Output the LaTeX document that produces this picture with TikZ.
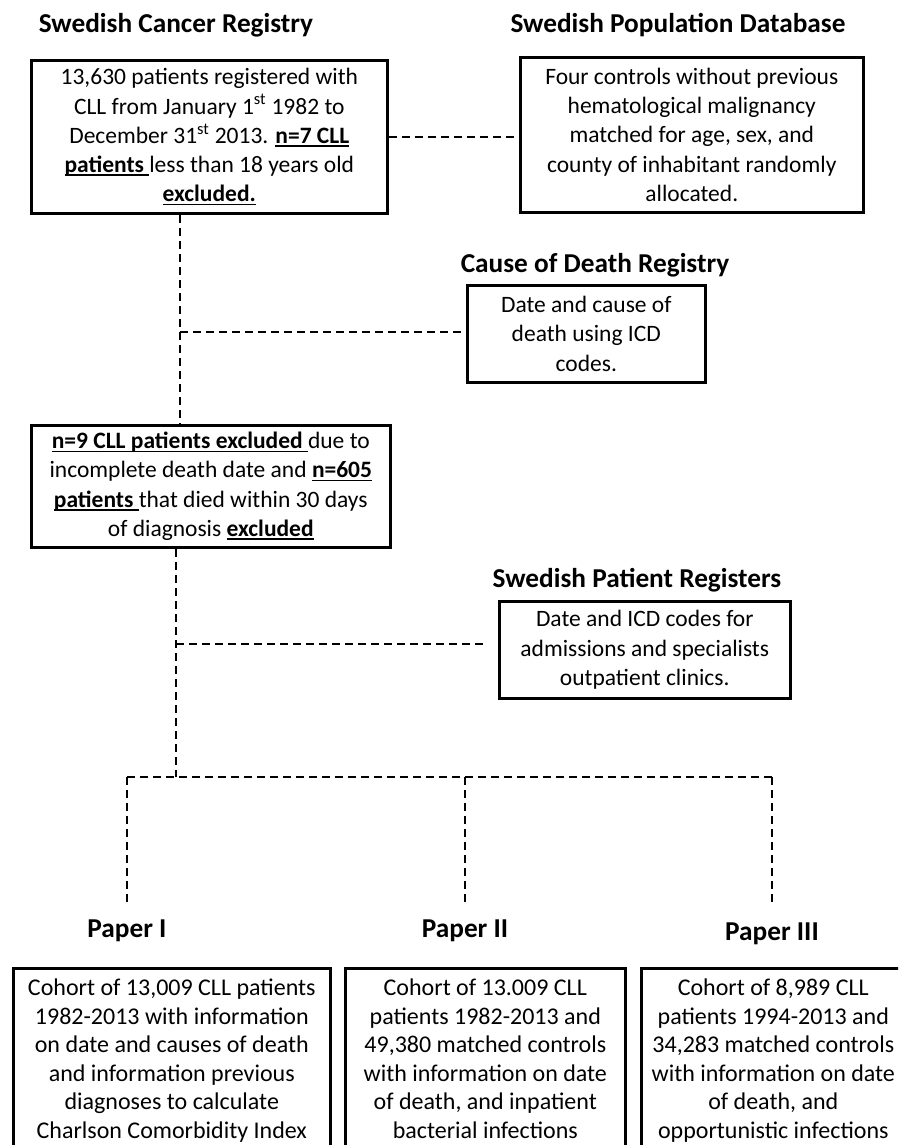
\documentclass[tikz,border=0pt]{standalone}
\usepackage{fontspec}
\setmainfont{Carlito}
\newcommand{\ulbox}[1]{\leavevmode\setbox0\hbox{#1}\rlap{\rule[-3.5pt]{\wd0}{1.6pt}}\box0}
\begin{document}
\begin{tikzpicture}[x=1pt,y=-1pt,
  box/.style={draw, line width=3.4pt, align=center, inner sep=0pt,
    font=\fontsize{23.5}{29.2}\selectfont, anchor=north west},
  cbox/.style={draw, line width=3.4pt, align=center, inner xsep=0pt, inner ysep=11pt,
    text depth=30pt, font=\fontsize{24}{28.5}\selectfont, anchor=north west},
  ttl/.style={font=\fontsize{27.3}{31}\selectfont\bfseries, inner sep=0pt, anchor=base},
  conn/.style={line width=1.7pt, dash pattern=on 8pt off 5pt}]
\useasboundingbox (0,0) rectangle (898,1145);
\clip (0,0) rectangle (898,1145);
% titles
\node[ttl] (t1) at (176,33) {Swedish Cancer Registry};
\node[ttl] (t2) at (678,33) {Swedish Population Database};
\node[ttl] (t3) at (595,272) {Cause of Death Registry};
\node[ttl] (t4) at (637,587) {Swedish Patient Registers};
\node[ttl] (p1) at (127,937) {Paper I};
\node[ttl] (p2) at (465,937) {Paper II};
\node[ttl] (p3) at (772,940) {Paper III};
% boxes
\node[box, minimum width=356, minimum height=153] (b1) at (29.6,58.6)
  {13,630 patients registered with\\
   CLL from January 1\textsuperscript{st} 1982 to\\
   December 31\textsuperscript{st} 2013. \ulbox{\textbf{n=7 CLL}}\\
   \ulbox{\textbf{patients}\ }less than 18 years old\\
   \ulbox{\textbf{excluded.}}};
\node[box, minimum width=343, minimum height=155] (b2) at (518.6,55.6)
  {Four controls without previous\\
   hematological malignancy\\
   matched for age, sex, and\\
   county of inhabitant randomly\\
   allocated.};
\node[box, minimum width=238, minimum height=97] (cod) at (465.6,283.6)
  {Date and cause of\\ death using ICD\\ codes.};
\node[box, minimum width=359, minimum height=122] (b3) at (29.6,423.6)
  {\ulbox{\textbf{n=9 CLL patients excluded}\ }due to\\
   incomplete death date and \ulbox{\textbf{n=605}}\\
   \ulbox{\textbf{patients}\ }that died within 30 days\\
   of diagnosis \ulbox{\textbf{excluded}}};
\node[box, minimum width=291, minimum height=97] (pr) at (497.6,599.6)
  {Date and ICD codes for\\ admissions and specialists\\ outpatient clinics.};
\node[cbox, minimum width=317] (c1) at (11.6,966.6)
  {Cohort of 13,009 CLL patients\\
   1982-2013 with information\\
   on date and causes of death\\
   and information previous\\
   diagnoses to calculate\\
   Charlson Comorbidity Index};
\node[cbox, minimum width=280] (c2) at (343.6,966.6)
  {Cohort of 13.009 CLL\\
   patients 1982-2013 and\\
   49,380 matched controls\\
   with information on date\\
   of death, and inpatient\\
   bacterial infections};
\node[cbox, minimum width=264] (c3) at (639.6,966.6)
  {Cohort of 8,989 CLL\\
   patients 1994-2013 and\\
   34,283 matched controls\\
   with information on date\\
   of death, and\\
   opportunistic infections};
% connectors
\coordinate (j1) at (180,332);
\coordinate (j2) at (176,644);
\coordinate (j3) at (176,777);
\draw[conn] (b1.east) -- (b1.east -| b2.west);
\draw[conn] (b1.south -| j1) -- (b3.north -| j1);
\draw[conn] (j1) -- (cod.west |- j1);
\draw[conn] (b3.south -| j2) -- (j3);
\draw[conn, shorten >=14pt] (j2) -- (pr.west |- j2);
\draw[conn] (p1.north |- j3) -- (p3.north |- j3);
\draw[conn, shorten >=15pt] (p1.north |- j3) -- (p1.north);
\draw[conn, shorten >=15pt] (p2.north |- j3) -- (p2.north);
\draw[conn, shorten >=18pt] (p3.north |- j3) -- (p3.north);
\end{tikzpicture}
\end{document}
